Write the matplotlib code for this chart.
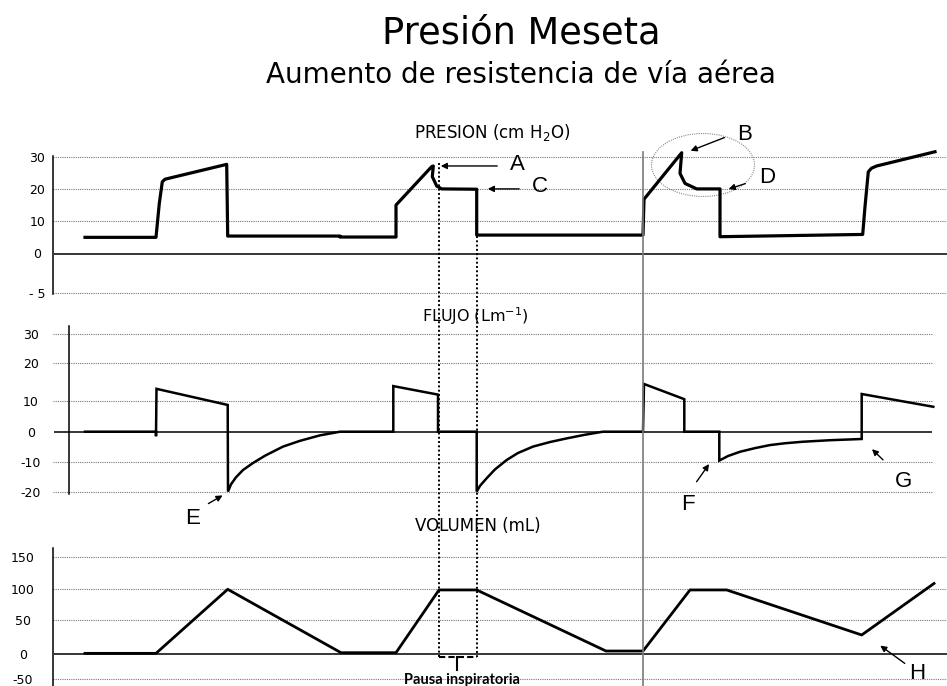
import matplotlib
matplotlib.use("Agg")
import matplotlib.pyplot as plt
from matplotlib.lines import Line2D
from matplotlib.patches import Ellipse

# Datos (tiempo en unidades arbitrarias)
pres_t = [85, 156, 159.3, 162.3, 165, 226.7, 227.7, 340, 340, 396, 396, 431.7, 433.3,
          432.3, 436.7, 441.7, 476.7, 476.7, 643, 644, 681.7, 680, 685, 696.7, 720, 720,
          862.7, 865, 868.3, 871.5, 876.7, 935]
pres_v = [5.0, 5.0, 15.5, 22.2, 23.0, 27.6, 5.4, 5.4, 5.1, 5.1, 15.0, 26.9, 27.1,
          23.8, 20.9, 20.0, 19.9, 5.7, 5.7, 16.8, 31.2, 24.8, 21.7, 20.0, 20.0, 5.2,
          5.9, 14.5, 25.3, 26.4, 27.1, 31.5]

flujo_t = [85, 156, 156, 156.5, 227.7, 228, 231, 236, 243, 253, 265, 283, 300, 320, 340,
           393.3, 393.3, 438, 438, 476.7, 476.7, 480, 486.7, 495, 506.7, 518, 533, 550,
           566.7, 585, 603, 643, 644, 684.3, 684.3, 719.3, 719.3, 728, 740, 755, 770,
           785, 803, 830, 861.7, 861.7, 933.3]
flujo_v = [0, 0, -1.5, 14.1, 8.8, -19.7, -17.3, -15.0, -12.6, -10.3, -7.9, -4.9, -3.0, -1.2, 0,
           0, 15.0, 12.2, 0, 0, -19.7, -17.8, -15.3, -12.4, -9.3, -7.0, -4.9, -3.4,
           -2.2, -1.0, 0, 0, 15.7, 10.7, 0, 0, -9.5, -8.0, -6.6, -5.4, -4.4,
           -3.8, -3.3, -2.8, -2.4, 12.4, 8.2]

vol_t = [85, 156, 227.7, 341, 396, 439, 476.7, 606, 643, 690, 726.7, 861.7, 934]
vol_v = [1, 1, 100, 2, 2, 99, 99, 4.6, 4.6, 99, 99, 29.4, 109]

pres_ticks = [-12.2, 0, 10, 20, 30]
pres_labels = ["- 5", "0", "10", "20", "30"]
flujo_ticks = [-19.9, -9.9, 0, 10.2, 22.6, 32.1]
flujo_labels = ["-20", "-10", "0", "10", "20", "30"]
vol_ticks = [-38.6, 0, 52.6, 100, 149.5]
vol_labels = ["-50", "0", "50", "100", "150"]

W, H = 947, 686
fig = plt.figure(figsize=(9.47, 6.86), dpi=100)
plt.rcParams["mathtext.default"] = "regular"


def fx(x):
    return x / W


def fy(y):
    return 1 - y / H


def panel(top, bottom, zero_px, ppu, ticks, labels, spine_x, spine_y, grid_end, label_x):
    ax = fig.add_axes([fx(53), fy(bottom), fx(947) - fx(53), (bottom - top) / H])
    ax.set_xlim(53, 947)
    ax.set_ylim((zero_px - bottom) / ppu, (zero_px - top) / ppu)
    for s in ["top", "right", "bottom"]:
        ax.spines[s].set_visible(False)
    ax.patch.set_visible(False)
    sp = ax.spines["left"]
    sp.set_position(("data", spine_x))
    sp.set_bounds((zero_px - spine_y[1]) / ppu, (zero_px - spine_y[0]) / ppu)
    sp.set_linewidth(1.1)
    ax.set_xticks([])
    ax.set_yticks(ticks, labels)
    ax.tick_params(axis="y", length=0, labelsize=9, pad=(spine_x - label_x) * 0.72)
    for lab in ax.get_yticklabels():
        lab.set_horizontalalignment("center")
    grid = [t for t in ticks if t != 0]
    ax.hlines(grid, 53, grid_end, colors="#777777", linestyles=[(0, (1, 1))], lw=0.8)
    ax.hlines(0, 54, grid_end, colors="black", lw=1.1)
    return ax


ax1 = panel(145, 300, 253.5, 3.23, pres_ticks, pres_labels, 53, (155.7, 294), 947, 37.5)
ax1.plot(pres_t, pres_v, color="black", lw=2.3, solid_joinstyle="round", clip_on=False)

ax2 = panel(320, 500, 431.7, 3.04, flujo_ticks, flujo_labels, 69, (326, 494), 932, 31)
ax2.plot(flujo_t, flujo_v, color="black", lw=1.8, solid_joinstyle="miter", clip_on=False)

ax3 = panel(545, 686, 654, 0.647, vol_ticks, vol_labels, 53, (547.7, 686), 947, 23)
ax3.plot(vol_t, vol_v, color="black", lw=2.0, clip_on=False)

# Titulos
fig.text(fx(521), fy(43), "Presión Meseta", ha="center", va="baseline", fontsize=26.5)
fig.text(fx(521), fy(83), "Aumento de resistencia de vía aérea", ha="center",
         va="baseline", fontsize=20)
fig.text(fx(492.5), fy(138), "PRESION (cm H$_2$O)", ha="center", va="baseline", fontsize=12)
fig.text(fx(475), fy(322), "FLUJO (Lm$^{-1}$)", ha="center", va="baseline", fontsize=11.5)
fig.text(fx(478), fy(531), "VOLUMEN (mL)", ha="center", va="baseline", fontsize=12)

# Linea vertical gris
fig.add_artist(Line2D([fx(642.7)] * 2, [fy(151.7), fy(686)], color="#7a7a7a", lw=1.2))

# Recuadro punteado de la pausa inspiratoria
dot = dict(color="black", lw=1.4, linestyle=(0, (1, 1.2)))
fig.add_artist(Line2D([fx(439)] * 2, [fy(163), fy(657)], **dot))
fig.add_artist(Line2D([fx(476.7)] * 2, [fy(189), fy(657)], **dot))
fig.add_artist(Line2D([fx(439), fx(476.7)], [fy(657)] * 2, color="black", lw=1.5,
                      linestyle=(0, (3, 1.5))))
fig.add_artist(Line2D([fx(457.3)] * 2, [fy(657), fy(670)], color="black", lw=1.5))
fig.text(fx(462), fy(680), "Pausa inspiratoria", ha="center", va="center",
         fontsize=10.5, fontweight="bold", family="Lato")

# Elipse B-D
ax1.add_patch(Ellipse((703, 27.4), 103, 19.5, fill=False, ec="#8a8a8a", lw=0.8,
                      linestyle=(0, (1, 1)), clip_on=False))

arrow = dict(arrowstyle="-|>", color="black", lw=1.0, mutation_scale=9)
letter = dict(fontsize=16, family="Liberation Sans", ha="center", va="center")

ax1.annotate("", xy=(438, 27.1), xytext=(500, 27.1), arrowprops=arrow, annotation_clip=False)
ax1.text(517, 27.7, "A", **letter)
ax1.annotate("", xy=(485, 20.0), xytext=(522, 20.0), arrowprops=arrow, annotation_clip=False)
ax1.text(540, 20.7, "C", **letter)
ax1.annotate("", xy=(688, 31.5), xytext=(727, 36.2), arrowprops=arrow, annotation_clip=False)
ax1.text(745, 36.7, "B", clip_on=False, **letter)
ax1.annotate("", xy=(726, 19.7), xytext=(748, 21.9), arrowprops=arrow, annotation_clip=False)
ax1.text(767, 23.4, "D", **letter)

ax2.annotate("", xy=(225, -20.5), xytext=(206, -24.1), arrowprops=arrow, annotation_clip=False)
ax2.text(193, -28.5, "E", clip_on=False, **letter)
ax2.annotate("", xy=(710.7, -9.9), xytext=(695, -17.2), arrowprops=arrow, annotation_clip=False)
ax2.text(688, -24.1, "F", clip_on=False, **letter)
ax2.annotate("", xy=(870, -5.1), xytext=(885, -9.9), arrowprops=arrow, annotation_clip=False)
ax2.text(903, -16.5, "G", **letter)

ax3.annotate("", xy=(878, 15.5), xytext=(907, -17), arrowprops=arrow, annotation_clip=False)
ax3.text(917, -29.4, "H", clip_on=False, **letter)

fig.savefig("out.png", dpi=100)
